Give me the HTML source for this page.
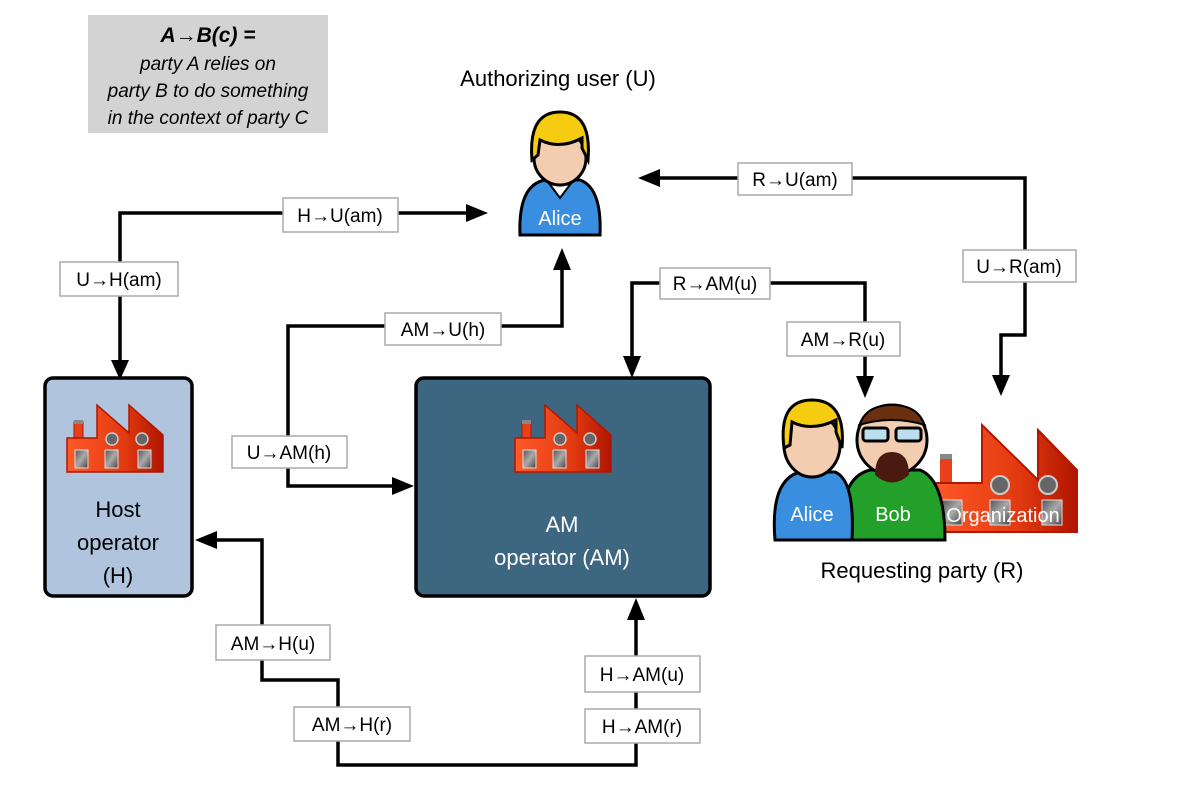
<!DOCTYPE html>
<html><head><meta charset="utf-8"><style>
html,body{margin:0;padding:0;background:#fff;}
svg{display:block;font-family:"Liberation Sans",sans-serif;}
.lbl rect{fill:#fff;stroke:#aaa;stroke-width:1.5;}
.lbl text{font-size:19px;fill:#000;text-anchor:middle;}
.ln{fill:none;stroke:#000;stroke-width:3.5;}
</style></head><body>
<svg width="1186" height="790" viewBox="0 0 1186 790" xmlns="http://www.w3.org/2000/svg">
<defs>
<linearGradient id="fr" x1="0" x2="1" y1="0" y2="0"><stop offset="0" stop-color="#ff5a2a"/><stop offset="0.6" stop-color="#e23a10"/><stop offset="1" stop-color="#b01500"/></linearGradient>
<linearGradient id="win" x1="0" x2="1" y1="0" y2="1"><stop offset="0" stop-color="#555"/><stop offset="0.5" stop-color="#aaa"/><stop offset="1" stop-color="#444"/></linearGradient>
<g id="fac">
<rect x="7" y="17" width="9" height="20" fill="#e8401a" stroke="#a02000" stroke-width="1"/>
<rect x="7" y="15" width="9" height="4" fill="#888"/>
<path d="M0 33 H30 V0 L62 28 V0 L96 30 V67 H0 Z" fill="url(#fr)" stroke="#b01800" stroke-width="1.5"/>
<circle cx="45" cy="34" r="6" fill="#666" stroke="#ccc" stroke-width="1.5"/>
<circle cx="75" cy="34" r="6" fill="#666" stroke="#ccc" stroke-width="1.5"/>
<rect x="8" y="45" width="13" height="18" fill="url(#win)" stroke="#ddd"/>
<rect x="38" y="45" width="13" height="18" fill="url(#win)" stroke="#ddd"/>
<rect x="71" y="45" width="13" height="18" fill="url(#win)" stroke="#ddd"/>
</g>
</defs>

<!-- legend -->
<rect x="88" y="15" width="240" height="118" fill="#d3d3d3"/>
<g font-style="italic" font-size="19" text-anchor="middle" fill="#000">
<text x="208" y="42" font-weight="bold" font-size="21">A→B(c) =</text>
<text x="208" y="70">party A relies on</text>
<text x="208" y="97">party B to do something</text>
<text x="208" y="124">in the context of party C</text>
</g>

<text x="558" y="86" font-size="22" text-anchor="middle">Authorizing user (U)</text>
<text x="922" y="578" font-size="22" text-anchor="middle">Requesting party (R)</text>

<!-- connectors -->
<path class="ln" d="M120 365 V213 H470"/>
<polygon points="120,380 111,360 129,360"/>
<polygon points="488,213 466,204 466,222"/>

<path class="ln" d="M655 178 H1025 V335 H1001 V378"/>
<polygon points="638,178 660,169 660,187"/>
<polygon points="1001,396 992,375 1010,375"/>

<path class="ln" d="M395 486 H288 V326 H562 V268"/>
<polygon points="414,486 392,477 392,495"/>
<polygon points="562,248 553,270 571,270"/>

<path class="ln" d="M632 358 V283 H865 V378"/>
<polygon points="632,378 623,356 641,356"/>
<polygon points="865,398 856,376 874,376"/>

<path class="ln" d="M215 540 H262 V680 H338 V765 H636 V620"/>
<polygon points="195,540 217,531 217,549"/>
<polygon points="636,598 627,620 645,620"/>

<!-- boxes -->
<rect x="45" y="378" width="147" height="218" rx="8" fill="#b0c4de" stroke="#000" stroke-width="3.5"/>
<rect x="416" y="378" width="294" height="218" rx="8" fill="#3d6681" stroke="#000" stroke-width="3.5"/>
<use href="#fac" x="67" y="405"/>
<use href="#fac" x="515" y="405"/>
<g font-size="22" text-anchor="middle">
<text x="118" y="517">Host</text>
<text x="118" y="550">operator</text>
<text x="118" y="583">(H)</text>
<text x="562" y="532" fill="#fff">AM</text>
<text x="562" y="565" fill="#fff">operator (AM)</text>
</g>

<!-- Alice top -->
<g>
<path d="M520 235 Q518 185 545 180 L580 180 Q602 188 600 235 Z" fill="#3a8ee0" stroke="#000" stroke-width="3"/>
<polygon points="548,182 572,182 560,198" fill="#fff" stroke="#000" stroke-width="2"/>
<ellipse cx="560" cy="158" rx="26" ry="27" fill="#f2cdb0" stroke="#000" stroke-width="3"/>
<path d="M532 160 Q528 112 560 112 Q592 112 588 160 L582 148 L582 138 Q560 150 540 140 L538 155 Z" fill="#f5cc10" stroke="#000" stroke-width="3"/>
<text x="560" y="225" font-size="20" fill="#fff" text-anchor="middle">Alice</text>
</g>

<!-- Requesting party group -->
<use href="#fac" x="930" y="420" transform="translate(-1040 -20) scale(2.05 1.35)" opacity="0"/>
<g transform="translate(930 425)">
<rect x="10" y="32" width="12" height="28" fill="#e8401a"/>
<rect x="10" y="29" width="12" height="5" fill="#888"/>
<path d="M0 58 H52 V0 L108 55 V5 L147 45 V107 H0 Z" fill="url(#fr)" stroke="#b01800" stroke-width="2"/>
<circle cx="70" cy="60" r="9" fill="#666" stroke="#ccc" stroke-width="2"/>
<circle cx="118" cy="60" r="9" fill="#666" stroke="#ccc" stroke-width="2"/>
<rect x="12" y="75" width="20" height="25" fill="url(#win)" stroke="#ddd"/>
<rect x="60" y="75" width="20" height="25" fill="url(#win)" stroke="#ddd"/>
<rect x="112" y="75" width="20" height="25" fill="url(#win)" stroke="#ddd"/>
</g>
<g>
<path d="M842 540 Q838 478 870 470 L920 470 Q945 480 945 540 Z" fill="#22a02a" stroke="#000" stroke-width="3"/>
<circle cx="892" cy="440" r="35" fill="#f2cdb0" stroke="#000" stroke-width="3"/>
<path d="M857 440 Q858 405 892 405 Q926 405 927 440 L925 425 Q892 415 859 425 Z" fill="#6b3010" stroke="#000" stroke-width="2"/>
<rect x="863" y="428" width="25" height="13" rx="3" fill="#bde" stroke="#000" stroke-width="3"/>
<rect x="896" y="428" width="25" height="13" rx="3" fill="#bde" stroke="#000" stroke-width="3"/>
<path d="M875 475 Q875 452 892 452 Q909 452 909 475 Q892 490 875 475 Z" fill="#4a1a10"/>
<text x="893" y="521" font-size="20" fill="#fff" text-anchor="middle">Bob</text>
</g>
<g>
<path d="M775 540 Q770 480 800 472 L835 472 Q855 480 852 540 Z" fill="#3a8ee0" stroke="#000" stroke-width="3"/>
<ellipse cx="812" cy="445" rx="28" ry="32" fill="#f2cdb0" stroke="#000" stroke-width="3"/>
<path d="M784 448 Q778 400 812 400 Q846 400 842 448 L836 432 L836 420 Q812 432 792 422 L790 445 Z" fill="#f5cc10" stroke="#000" stroke-width="3"/>
<text x="812" y="521" font-size="20" fill="#fff" text-anchor="middle">Alice</text>
</g>
<text x="1003" y="522" font-size="20" fill="#fff" text-anchor="middle">Organization</text>

<!-- labels -->
<g class="lbl">
<rect x="283" y="198" width="115" height="34"/><text x="340" y="222">H→U(am)</text>
<rect x="60" y="262" width="118" height="34"/><text x="119" y="286">U→H(am)</text>
<rect x="738" y="163" width="114" height="32"/><text x="795" y="186">R→U(am)</text>
<rect x="963" y="250" width="113" height="32"/><text x="1019" y="273">U→R(am)</text>
<rect x="385" y="313" width="116" height="32"/><text x="443" y="336">AM→U(h)</text>
<rect x="232" y="436" width="115" height="32"/><text x="289" y="459">U→AM(h)</text>
<rect x="660" y="268" width="110" height="31"/><text x="715" y="290">R→AM(u)</text>
<rect x="787" y="322" width="113" height="34"/><text x="843" y="346">AM→R(u)</text>
<rect x="216" y="625" width="114" height="35"/><text x="273" y="650">AM→H(u)</text>
<rect x="294" y="707" width="116" height="34"/><text x="352" y="731">AM→H(r)</text>
<rect x="585" y="656" width="115" height="36"/><text x="642" y="681">H→AM(u)</text>
<rect x="585" y="709" width="115" height="34"/><text x="642" y="733">H→AM(r)</text>
</g>
</svg>
</body></html>
